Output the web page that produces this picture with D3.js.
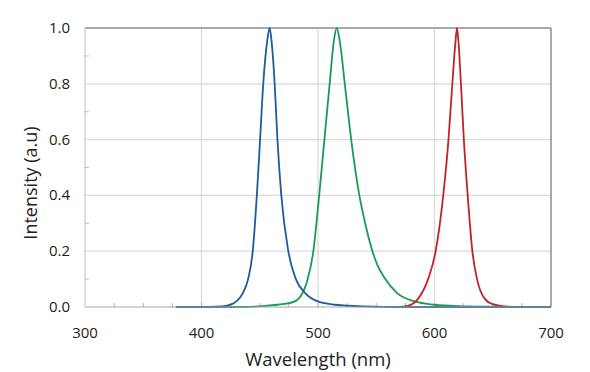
<!DOCTYPE html>
<html>
<head>
<meta charset="utf-8">
<script src="https://cdn.jsdelivr.net/npm/d3@7"></script>
<style>
  body { margin: 0; background: #fff; }
  text { font-family: "Open Sans", "DejaVu Sans", sans-serif; fill: #222; }
</style>
</head>
<body>
<svg id="chart" width="590" height="372"></svg>
<script>
// spectra: [wavelength nm, intensity]
var blueSpectrum = [[378,0],[400,0],[412,0.001],[422,0.005],[430,0.02],[435.5,0.05],[440,0.1],[444,0.2],
  [447.5,0.4],[450.3,0.6],[453,0.8],[456.3,0.95],[458.5,1.0],[460.2,0.95],[462.8,0.8],[465.2,0.6],
  [468.5,0.4],[474.5,0.2],[481,0.1],[489,0.05],[500,0.02],[515,0.008],[540,0.002],[570,0],[700,0]];
var greenSpectrum = [[378,0],[435,0],[452,0.003],[465,0.008],[474,0.013],[481,0.022],[486,0.045],[490.5,0.09],
  [496,0.2],[501,0.4],[505.5,0.6],[510,0.8],[513.5,0.95],[516,1.0],[518.8,0.95],[523,0.8],[528.5,0.6],
  [535.5,0.4],[540.5,0.3],[546,0.21],[551,0.15],[557,0.105],[568,0.05],[583,0.02],[600,0.008],[620,0.003],
  [650,0.001],[700,0]];
var redSpectrum = [[568,0],[577,0.004],[586,0.03],[594.5,0.1],[601,0.2],[607.5,0.4],[612,0.6],
  [615.3,0.8],[618,0.95],[619.3,1.0],[620.6,0.95],[622.7,0.8],[625.2,0.6],[628.5,0.4],
  [632.5,0.2],[636.5,0.1],[643,0.03],[650,0.01],[660,0.002],[672,0],[700,0]];

var xTicks = [300, 400, 500, 600, 700];
var yTicks = [0, 0.2, 0.4, 0.6, 0.8, 1.0];
var xMinor = d3.range(325, 700, 25);
var yMinor = [0.1, 0.3, 0.5, 0.7, 0.9];

var svg = d3.select("#chart");
var plotLeft = 85, plotRight = 551, plotTop = 28, plotBottom = 307;

var x = d3.scaleLinear().domain([300, 700]).range([plotLeft, plotRight]);
var y = d3.scaleLinear().domain([0, 1]).range([plotBottom, plotTop]);

// grid
svg.selectAll(".hgrid").data(yTicks.slice(1, 5)).enter().append("line")
  .attr("x1", plotLeft).attr("x2", plotRight)
  .attr("y1", function(d){ return y(d); }).attr("y2", function(d){ return y(d); })
  .attr("stroke", "#d9d9d9").attr("stroke-width", 1.2);
svg.selectAll(".vgrid").data([400, 500, 600]).enter().append("line")
  .attr("y1", plotTop).attr("y2", plotBottom)
  .attr("x1", function(d){ return x(d); }).attr("x2", function(d){ return x(d); })
  .attr("stroke", "#d9d9d9").attr("stroke-width", 1.2);

// frame
svg.append("line").attr("x1", plotLeft).attr("x2", plotRight).attr("y1", plotTop).attr("y2", plotTop)
  .attr("stroke", "#8c8c8c").attr("stroke-width", 1.5);
svg.append("line").attr("x1", plotRight).attr("x2", plotRight).attr("y1", plotTop).attr("y2", plotBottom)
  .attr("stroke", "#8c8c8c").attr("stroke-width", 1.5);
svg.append("line").attr("x1", plotLeft).attr("x2", plotLeft).attr("y1", plotTop).attr("y2", plotBottom)
  .attr("stroke", "#c8c8c8").attr("stroke-width", 1.2);

// minor ticks
svg.selectAll(".ymin").data(yMinor).enter().append("line")
  .attr("x1", plotLeft).attr("x2", plotLeft + 4)
  .attr("y1", function(d){ return y(d); }).attr("y2", function(d){ return y(d); })
  .attr("stroke", "#c0c0c0");
svg.selectAll(".xmin").data(xMinor).enter().append("line")
  .attr("y1", plotBottom).attr("y2", plotBottom - 4)
  .attr("x1", function(d){ return x(d); }).attr("x2", function(d){ return x(d); })
  .attr("stroke", "#b0b0b0");

// curves
var line = d3.line().x(function(d){ return x(d[0]); }).y(function(d){ return y(d[1]); })
  .curve(d3.curveMonotoneX);
[[greenSpectrum, "#1b9a55"], [redSpectrum, "#c1232b"], [blueSpectrum, "#1f5c9c"]].forEach(function(s){
  svg.append("path").datum(s[0]).attr("d", line)
    .attr("fill", "none").attr("stroke", s[1]).attr("stroke-width", 1.8);
});

// bottom axis line on top
svg.append("line").attr("x1", plotLeft).attr("x2", plotRight).attr("y1", plotBottom).attr("y2", plotBottom)
  .attr("stroke", "#a6a6a6").attr("stroke-width", 1.2);

// tick labels
svg.selectAll(".xl").data(xTicks).enter().append("text")
  .attr("x", function(d){ return x(d); }).attr("y", 338)
  .attr("text-anchor", "middle").attr("font-size", 15)
  .text(function(d){ return d; });
svg.selectAll(".yl").data(yTicks).enter().append("text")
  .attr("x", 70).attr("y", function(d){ return y(d) + 5; })
  .attr("text-anchor", "end").attr("font-size", 15)
  .text(function(d){ return d.toFixed(1); });

// axis titles
svg.append("text").attr("x", 318).attr("y", 366)
  .attr("text-anchor", "middle").attr("font-size", 18.5)
  .text("Wavelength (nm)");
svg.append("text").attr("transform", "translate(37,183) rotate(-90)")
  .attr("text-anchor", "middle").attr("font-size", 18)
  .text("Intensity (a.u)");
</script>
</body>
</html>
